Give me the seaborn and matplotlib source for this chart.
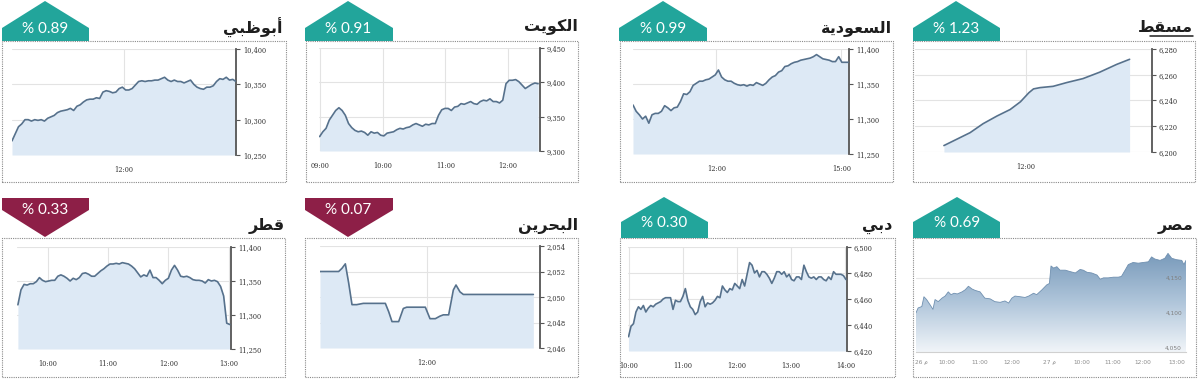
import numpy as np
import seaborn as sns
import matplotlib.pyplot as plt
from matplotlib.patches import Polygon, Rectangle
from matplotlib.lines import Line2D
from matplotlib.colors import LinearSegmentedColormap

# ---- data ----
names = ["أبوظبي", "الكويت", "السعودية", "مسقط", "قطر", "البحرين", "دبي", "مصر"]
changes = ["% 0.89", "% 0.91", "% 0.99", "% 1.23", "% 0.33", "% 0.07", "% 0.30", "% 0.69"]
moves = ["up", "up", "up", "up", "down", "down", "up", "up"]

abudhabi = [10270, 10280, 10290, 10294, 10300, 10300, 10298, 10300, 10299, 10300,
            10298, 10302, 10304, 10306, 10310, 10312, 10313, 10314, 10316, 10313,
            10319, 10321, 10325, 10328, 10329, 10329, 10331, 10330, 10339, 10341,
            10340, 10338, 10339, 10344, 10346, 10342, 10342, 10344, 10349, 10354,
            10355, 10354, 10355, 10355, 10356, 10356, 10358, 10360, 10356, 10354,
            10356, 10354, 10354, 10352, 10354, 10356, 10350, 10346, 10344, 10343,
            10346, 10346, 10348, 10354, 10358, 10357, 10360, 10356, 10357, 10354]
kuwait = [9321, 9328, 9333, 9345, 9352, 9359, 9363, 9359, 9352, 9340,
          9334, 9330, 9328, 9329, 9327, 9323, 9328, 9326, 9327, 9323,
          9322, 9326, 9327, 9328, 9331, 9333, 9332, 9334, 9335, 9338,
          9340, 9338, 9336, 9339, 9338, 9340, 9340, 9352, 9360, 9362,
          9362, 9359, 9364, 9365, 9369, 9368, 9370, 9372, 9369, 9368,
          9372, 9374, 9373, 9376, 9372, 9372, 9370, 9374, 9398, 9403,
          9403, 9404, 9401, 9396, 9391, 9394, 9397, 9399, 9398]
saudi = [11320, 11311, 11306, 11300, 11304, 11294, 11306, 11308, 11308, 11311,
         11319, 11316, 11312, 11316, 11317, 11325, 11336, 11335, 11339, 11348,
         11351, 11354, 11354, 11356, 11357, 11360, 11363, 11370, 11360, 11356,
         11354, 11354, 11351, 11349, 11348, 11349, 11347, 11349, 11348, 11352,
         11350, 11348, 11351, 11356, 11360, 11362, 11367, 11369, 11375, 11376,
         11379, 11381, 11382, 11384, 11385, 11386, 11387, 11389, 11392, 11389,
         11386, 11385, 11384, 11382, 11382, 11389, 11381, 11381, 11381]
muscat_time = [11.12, 11.26, 11.40, 11.54, 11.69, 11.83, 11.94, 12.03,
               12.08, 12.15, 12.29, 12.44, 12.61, 12.79, 12.97, 13.11]
muscat = [6205, 6210, 6215, 6222, 6228, 6233, 6239, 6246,
          6249, 6250, 6251, 6254, 6257, 6262, 6268, 6272]
qatar = [11315, 11337, 11345, 11344, 11346, 11346, 11349, 11355, 11351, 11349,
         11350, 11351, 11351, 11357, 11359, 11357, 11354, 11350, 11354, 11352,
         11355, 11361, 11362, 11360, 11357, 11357, 11361, 11365, 11368, 11372,
         11375, 11375, 11376, 11375, 11377, 11376, 11375, 11372, 11368, 11362,
         11356, 11359, 11357, 11366, 11355, 11355, 11351, 11346, 11351, 11354,
         11366, 11373, 11366, 11357, 11356, 11357, 11355, 11352, 11351, 11351,
         11350, 11347, 11352, 11350, 11351, 11349, 11342, 11328, 11288, 11286]
bahrain_time = [10.40, 10.68, 10.73, 10.78, 10.83, 10.88, 10.95, 11.05, 11.38,
                11.43, 11.48, 11.58, 11.65, 11.70, 11.98, 12.05, 12.13, 12.20,
                12.25, 12.33, 12.40, 12.44, 12.50, 12.55, 13.60]
bahrain = [2052.0, 2052.0, 2052.25, 2052.6, 2051.1, 2049.4, 2049.4, 2049.5, 2049.5,
           2048.85, 2048.07, 2048.07, 2049.1, 2049.2, 2049.2, 2048.3, 2048.3, 2048.5,
           2048.6, 2048.6, 2050.55, 2050.94, 2050.4, 2050.2, 2050.2]
dubai = [6431, 6439, 6441, 6450, 6454, 6452, 6455, 6450, 6453, 6455,
         6454, 6456, 6457, 6458, 6460, 6461, 6461, 6461, 6452, 6459,
         6458, 6458, 6462, 6468, 6459, 6454, 6452, 6448, 6450, 6458,
         6462, 6454, 6457, 6456, 6457, 6459, 6462, 6461, 6470, 6467,
         6465, 6468, 6467, 6472, 6470, 6468, 6475, 6470, 6479, 6488,
         6486, 6480, 6482, 6477, 6481, 6481, 6479, 6476, 6472, 6476,
         6481, 6481, 6479, 6481, 6477, 6479, 6475, 6474, 6477, 6477,
         6475, 6486, 6481, 6477, 6476, 6477, 6475, 6477, 6477, 6475,
         6474, 6477, 6475, 6481, 6479, 6479, 6479, 6478, 6475]
egypt_min = [0, 4, 11, 15, 20, 27, 32, 36, 42, 49, 55, 61, 66, 72, 78, 87, 93, 99,
             106, 112, 121, 130, 140, 149, 159, 168, 175, 181, 187, 197, 206, 213,
             222, 228, 238, 247, 252, 255, 260, 266, 272, 282, 291, 301, 310, 316,
             323, 332, 342, 348, 354, 363, 373, 382, 388, 395, 401, 410, 420, 429,
             439, 445, 451, 461, 470, 476, 483, 492, 502, 506, 510]
egypt = [4100, 4107, 4109, 4123, 4119, 4111, 4105, 4119, 4116, 4121,
         4124, 4130, 4126, 4128, 4127, 4130, 4133, 4138, 4134, 4132,
         4130, 4121, 4120, 4116, 4115, 4117, 4114, 4121, 4124, 4123,
         4122, 4124, 4128, 4126, 4133, 4140, 4142, 4167, 4164, 4166,
         4161, 4161, 4159, 4157, 4162, 4161, 4158, 4157, 4154, 4148,
         4150, 4150, 4151, 4151, 4152, 4161, 4169, 4172, 4171, 4172,
         4173, 4180, 4177, 4175, 4178, 4185, 4178, 4176, 4175, 4169, 4175]

yticks_abudhabi = [10250, 10300, 10350, 10400]
yticks_kuwait = [9300, 9350, 9400, 9450]
yticks_saudi = [11250, 11300, 11350, 11400]
yticks_muscat = [6200, 6220, 6240, 6260, 6280]
yticks_qatar = [11250, 11300, 11350, 11400]
yticks_bahrain = [2046, 2048, 2050, 2052, 2054]
yticks_dubai = [6420, 6440, 6460, 6480, 6500]
yticks_egypt = [4050, 4100, 4150]
egypt_xticks = [11, 59, 121, 181, 253, 314, 371, 429, 493]
egypt_xlabels = ["26 م", "10:00", "11:00", "12:00", "27 م", "10:00", "11:00", "12:00", "13:00"]

# ---- tiny Arabic shaper (matplotlib has no shaping) ----
AR_FORMS = {
    "ا": "\uFE8D\uFE8E", "أ": "\uFE83\uFE84", "د": "\uFEA9\uFEAA",
    "ر": "\uFEAD\uFEAE", "و": "\uFEED\uFEEE", "ة": "\uFE93\uFE94",
    "ب": "\uFE8F\uFE90\uFE91\uFE92", "ت": "\uFE95\uFE96\uFE97\uFE98",
    "ح": "\uFEA1\uFEA2\uFEA3\uFEA4", "س": "\uFEB1\uFEB2\uFEB3\uFEB4",
    "ص": "\uFEB9\uFEBA\uFEBB\uFEBC", "ط": "\uFEC1\uFEC2\uFEC3\uFEC4",
    "ظ": "\uFEC5\uFEC6\uFEC7\uFEC8", "ع": "\uFEC9\uFECA\uFECB\uFECC",
    "ق": "\uFED5\uFED6\uFED7\uFED8", "ك": "\uFED9\uFEDA\uFEDB\uFEDC",
    "ل": "\uFEDD\uFEDE\uFEDF\uFEE0", "م": "\uFEE1\uFEE2\uFEE3\uFEE4",
    "ن": "\uFEE5\uFEE6\uFEE7\uFEE8", "ي": "\uFEF1\uFEF2\uFEF3\uFEF4",
}


def shape_ar(text):
    out = []
    for i, ch in enumerate(text):
        forms = AR_FORMS.get(ch)
        if forms is None:
            out.append(ch)
            continue
        prev = text[i - 1] if i > 0 else ""
        nxt = text[i + 1] if i + 1 < len(text) else ""
        joins_prev = len(AR_FORMS.get(prev, "")) == 4
        joins_next = len(forms) == 4 and nxt in AR_FORMS
        out.append(forms[joins_prev + 2 * joins_next if not (joins_prev and joins_next) else 3])
    return "".join(reversed(out))


# ---- style ----
sns.set_style("white")
plt.rcParams["font.family"] = ["DejaVu Sans"]

W, H = 1200, 384
TEAL, MAROON = "#22a59b", "#8d1f47"
FILL, LINE, GRID = "#dde9f5", "#56718c", "#e3e3e3"

fig = plt.figure(figsize=(12, 3.84), dpi=100)


def fx(x):
    return x / W


def fy(y):
    return 1 - y / H


def add_axes(x0, y0, x1, y1):
    return fig.add_axes([fx(x0), fy(y1), (x1 - x0) / W, (y1 - y0) / H])


def line_panel(rect, x, y, yticks, xticks, xlabels, xlim):
    ax = add_axes(*rect)
    ylim = (yticks[0], yticks[-1])
    ax.fill_between(x, y, ylim[0], color=FILL, lw=0, zorder=1)
    sns.lineplot(x=x, y=y, ax=ax, color=LINE, linewidth=1.2, estimator=None, sort=False, zorder=3)
    ax.set_xlim(xlim)
    ax.set_ylim(ylim)
    ax.yaxis.tick_right()
    ax.set_yticks(yticks)
    ax.set_yticklabels([f"{v:,}" for v in yticks], family="DejaVu Serif")
    ax.set_xticks(xticks)
    ax.set_xticklabels(xlabels, family="DejaVu Serif")
    ax.grid(True, color=GRID, lw=0.8)
    ax.set_axisbelow(True)
    for s in ["top", "left", "bottom"]:
        ax.spines[s].set_visible(False)
    ax.spines["right"].set_color("#555555")
    ax.spines["right"].set_linewidth(1.3)
    ax.tick_params(axis="y", length=3, width=0.8, color="#555555", labelsize=4.8,
                   labelcolor="#333333", pad=2)
    ax.tick_params(axis="x", length=0, labelsize=4.8, labelcolor="#333333", pad=8)
    ax.set_xlabel("")
    ax.set_ylabel("")
    return ax


def hours(start, end, n):
    return np.linspace(start, end, n)


line_panel((12, 49, 236, 155), hours(10.0, 14.0, len(abudhabi)), abudhabi,
           yticks_abudhabi, [12], ["12:00"], (10.0, 14.0))
line_panel((319, 48, 540, 151), hours(8.99, 12.48, len(kuwait)), kuwait,
           yticks_kuwait, [9, 10, 11, 12], ["09:00", "10:00", "11:00", "12:00"], (8.98, 12.51))
line_panel((633, 49, 849, 154), hours(10.0, 15.16, len(saudi)), saudi,
           yticks_saudi, [12, 15], ["12:00", "15:00"], (10.0, 15.18))
line_panel((915, 49, 1152, 152), muscat_time, muscat,
           yticks_muscat, [12], ["12:00"], (10.81, 13.35))
line_panel((17, 247, 231, 349), hours(9.5, 13.02, len(qatar)), qatar,
           yticks_qatar, [10, 11, 12, 13], ["10:00", "11:00", "12:00", "13:00"], (9.485, 13.04))
line_panel((320, 246, 540, 348), bahrain_time, bahrain,
           yticks_bahrain, [12], ["12:00"], (10.4, 13.7))
line_panel((628, 247, 847, 351), hours(10.0, 14.01, len(dubai)), dubai,
           yticks_dubai, [10, 11, 12, 13, 14], ["10:00", "11:00", "12:00", "13:00", "14:00"],
           (9.99, 14.03))

# Egypt: gradient area, value labels inside the plot
ax = add_axes(916, 245, 1186, 352)
e_lim = (4044, 4197)
poly = ax.fill_between(egypt_min, egypt, e_lim[0], color="none", lw=0)
grad = np.linspace(0, 1, 256).reshape(-1, 1)
cmap = LinearSegmentedColormap.from_list("eg", ["#f1f5f9", "#afc5da", "#7698b9"])
img = ax.imshow(grad, extent=[0, 510, e_lim[0], 4188], origin="lower", aspect="auto",
                cmap=cmap, zorder=1)
img.set_clip_path(poly.get_paths()[0], transform=ax.transData)
sns.lineplot(x=egypt_min, y=egypt, ax=ax, color="#7090b0", linewidth=0.6,
             estimator=None, sort=False, zorder=3)
ax.set_xlim(0, 510)
ax.set_ylim(e_lim)
ax.set_yticks(yticks_egypt)
ax.set_yticklabels([])
for v in yticks_egypt:
    ax.text(0.985, v, f"{v:,}", transform=ax.get_yaxis_transform(), ha="right",
            va="center", fontsize=4.2, color="#7f7f7f", zorder=5)
ax.set_xticks(egypt_xticks)
ax.set_xticklabels(egypt_xlabels)
ax.grid(True, axis="y", color="#e6e6e6", lw=0.8)
ax.set_axisbelow(True)
for s in ["top", "left", "right"]:
    ax.spines[s].set_visible(False)
ax.spines["bottom"].set_color("#d0d0d0")
ax.spines["bottom"].set_linewidth(0.8)
ax.tick_params(axis="y", length=0)
ax.tick_params(axis="x", length=0, labelsize=4.2, labelcolor="#8c8c8c", pad=6)
ax.set_xlabel("")
ax.set_ylabel("")

# ---- frames, badges, titles ----
boxes = [(2, 41, 286, 182), (306, 41, 578, 182), (620, 41, 893, 182), (913, 41, 1195, 182),
         (2, 238, 285, 377), (305, 238, 578, 377), (620, 238, 895, 377), (913, 238, 1196, 377)]
badges = [(2, 89, 45), (305, 393, 348), (619, 707, 663), (913, 1000, 956),
          (2, 89, 45), (305, 393, 348), (621, 708, 664), (913, 1000, 957)]
title_pos = [(283, 28), (578, 27), (892, 28), (1193, 27),
             (285, 226), (578, 226), (892, 226), (1193, 226)]

for i in range(8):
    x0, y0, x1, y1 = boxes[i]
    fig.add_artist(Rectangle((fx(x0), fy(y1)), (x1 - x0) / W, (y1 - y0) / H,
                             transform=fig.transFigure, fill=False, ec="#8a8a8a",
                             lw=0.8, ls=(0, (1, 1))))
    bx0, bx1, bpk = badges[i]
    row2 = i >= 4
    if moves[i] == "up":
        top, shoulder, bottom = (197, 222, 238) if row2 else (1, 28, 41)
        pts = [(bx0, bottom), (bx0, shoulder), (bpk, top), (bx1, shoulder), (bx1, bottom)]
        ty = 223 if row2 else 29
        col = TEAL
    else:
        top, shoulder, tip = 198, 210, 237
        pts = [(bx0, top), (bx1, top), (bx1, shoulder), (bpk, tip), (bx0, shoulder)]
        ty = 210
        col = MAROON
    fig.add_artist(Polygon([(fx(a), fy(b)) for a, b in pts], closed=True,
                           transform=fig.transFigure, fc=col, ec="none"))
    fig.text(fx(bpk), fy(ty), changes[i], ha="center", va="center", color="white",
             fontsize=11, family="Lato")
    tx, tyy = title_pos[i]
    fig.text(fx(tx), fy(tyy), shape_ar(names[i]), ha="right", va="center",
             fontsize=11.5, fontweight="bold", color="#1e1e1e")

# underline under the Muscat title
fig.add_artist(Line2D([fx(1150), fx(1193)], [fy(36), fy(36)], transform=fig.transFigure,
                      color="#1e1e1e", lw=1.1))

fig.savefig("out.png", dpi=100)
